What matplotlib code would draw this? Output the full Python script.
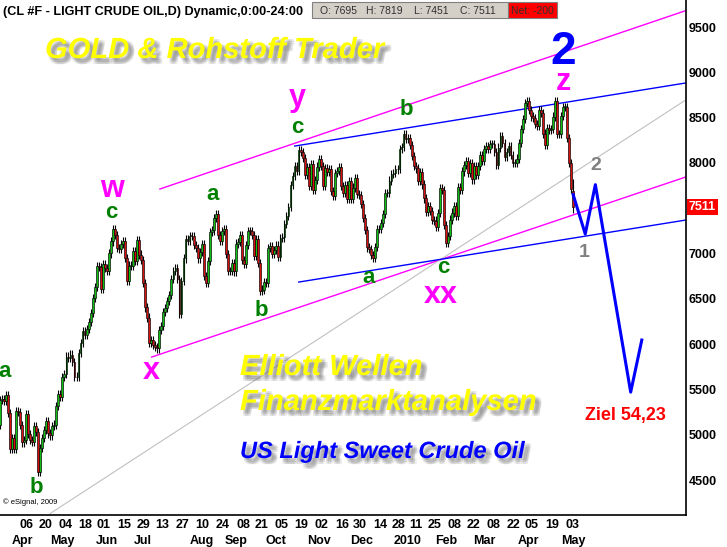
import numpy as np
import pandas as pd
import matplotlib
matplotlib.use("Agg")
import matplotlib.pyplot as plt
import matplotlib.patheffects as pe
from matplotlib.patches import Rectangle
from matplotlib import font_manager as fm

# ---- data -------------------------------------------------------------
holidays = ["2009-04-10", "2009-05-25", "2009-07-03", "2009-09-07", "2009-11-26",
            "2009-12-25", "2010-01-01", "2010-01-18", "2010-02-15", "2010-04-02"]
days = pd.bdate_range("2009-03-20", "2010-05-07", freq="C", holidays=holidays)

# daily closes in $, one row per week
closes = [
    51.06,
    53.80, 53.98, 53.77, 54.34, 52.38,
    48.41, 49.66, 48.39, 52.64, 52.51,
    51.05, 49.15, 49.38, 52.24,
    50.05, 49.41, 49.25, 50.98, 50.33,
    45.88, 48.55, 49.62, 50.55, 51.55,
    50.14, 49.92, 50.97, 51.12, 53.20,
    54.47, 54.16, 56.34, 56.71, 58.63,
    58.50, 58.85, 58.02, 56.42, 56.34,
    59.03, 60.10, 61.45, 61.05, 61.67,
    62.45, 63.45, 65.08, 66.31,
    68.58, 68.55, 66.12, 68.81, 68.44,
    68.09, 70.01, 71.33, 72.68, 72.04,
    70.62, 70.47, 71.03, 71.37, 69.55,
    66.93, 68.67, 68.67, 70.23, 69.16,
    71.49, 69.89, 69.31, 66.73,
    64.05, 62.93, 60.14, 60.41, 59.89,
    59.69, 59.52, 61.54, 62.02, 63.56,
    63.98, 64.72, 65.40, 67.22, 68.05,
    68.38, 67.23, 63.35, 66.94, 69.45,
    71.58, 71.42, 71.97, 71.94, 70.93,
    70.60, 69.45, 70.16, 71.01, 67.51,
    66.75, 69.19, 72.42, 72.54, 73.89,
    74.37, 72.05, 71.43, 72.49, 72.74,
    69.96, 68.05, 68.05, 68.96, 68.02,
    71.10, 71.31, 72.04, 69.29,
    68.86, 70.93, 72.51, 72.47, 72.04,
    69.71, 71.55, 68.97, 65.89, 66.02,
    66.84, 66.71, 70.61, 70.82, 69.95,
    70.41, 70.88, 69.57, 71.69, 71.77,
    73.27, 74.15, 75.18, 77.58, 78.53,
    79.61, 79.09, 81.37, 81.19, 80.50,
    78.68, 79.55, 77.46, 79.87, 77.00,
    78.13, 79.60, 80.40, 79.62, 77.43,
    79.43, 79.05, 79.28, 76.94, 76.35,
    78.90, 79.14, 79.58, 77.46, 76.72,
    77.56, 76.02, 77.96, 76.05,
    77.28, 78.37, 76.60, 76.46, 75.47,
    73.93, 72.62, 70.67, 70.54, 69.87,
    69.51, 70.69, 72.66, 72.66, 73.36,
    74.40, 76.67, 76.67, 78.05,
    78.77, 78.87, 79.28, 79.36,
    81.51, 81.77, 83.18, 82.66, 82.75,
    81.99, 80.79, 79.65, 79.39, 78.00,
    79.02, 77.62, 76.08, 74.54,
    75.26, 74.71, 73.67, 73.64, 72.89,
    74.43, 77.23, 76.98, 73.14, 71.19,
    71.89, 73.75, 74.52, 75.28, 74.13,
    77.33, 77.01, 79.06, 79.81,
    80.16, 78.86, 80.00, 78.17, 79.66,
    78.70, 79.68, 80.87, 80.21, 81.50,
    81.87, 81.49, 82.09, 82.11, 81.24,
    79.80, 81.70, 82.93, 82.20, 80.68,
    81.25, 81.91, 80.91, 80.00, 80.00,
    80.48, 82.17, 83.76, 84.87,
    86.62, 86.84, 85.88, 85.13, 84.92,
    84.34, 84.05, 85.84, 85.51, 83.24,
    82.00, 83.85, 83.68, 83.70, 85.12,
    86.84, 83.21, 83.22, 85.17, 86.15,
    86.19, 82.74, 79.97, 77.11, 75.11,
]
last_bar = {"O": 7695, "H": 7819, "L": 7451, "C": 7511}
net_change = -200

price_ticks = [4500, 5000, 5500, 6000, 6500, 7000, 8000, 8500, 9000, 9500]

day_ticks = ["2009-04-06", "2009-04-20", "2009-05-04", "2009-05-18", "2009-06-01",
             "2009-06-15", "2009-06-29", "2009-07-13", "2009-07-27", "2009-08-10",
             "2009-08-24", "2009-09-08", "2009-09-21", "2009-10-05", "2009-10-19",
             "2009-11-02", "2009-11-16", "2009-11-30", "2009-12-14", "2009-12-28",
             "2010-01-11", "2010-01-25", "2010-02-08", "2010-02-22", "2010-03-08",
             "2010-03-22", "2010-04-05", "2010-04-19", "2010-05-03"]
month_labels = ["Apr", "May", "Jun", "Jul", "Aug", "Sep", "Oct", "Nov", "Dec",
                "2010", "Feb", "Mar", "Apr", "May"]
month_dates = ["2009-04-07", "2009-05-06", "2009-06-08", "2009-07-02", "2009-08-13",
               "2009-09-08", "2009-10-06", "2009-11-04", "2009-12-04", "2010-01-08",
               "2010-02-05", "2010-03-05", "2010-04-07", "2010-05-07"]

# trend lines: (start day no., start price, end day no., end price, colour)
trend_lines = [
    (80.3, 7712, 340.7, 9680, "#ff00ff"),
    (76.2, 5857, 340.7, 7844, "#ff00ff"),
    (26.0, 4131, 340.7, 8694, "#c0c0c0"),
    (147.1, 8186, 340.7, 8882, "#0000ff"),
    (149.1, 6685, 340.7, 7369, "#0000ff"),
]

# projected wave (trading day no., price)
wave_days = [285, 291, 296, 313.5, 319]
wave_prices = [7650, 7215, 7760, 5470, 6045]

# wave labels: (text, day no., price, colour, size)
wave_labels = [
    ("a", 3.6, 5637, "#008000", 16), ("b", 18.9, 4357, "#008000", 16),
    ("w", 56.6, 7624, "#ff00ff", 22), ("c", 56.1, 7392, "#008000", 16),
    ("x", 75.9, 5615, "#ff00ff", 22), ("a", 106.6, 7591, "#008000", 16),
    ("b", 130.4, 6310, "#008000", 16), ("y", 148.2, 8628, "#ff00ff", 22),
    ("c", 148.2, 8330, "#008000", 16), ("a", 183.9, 6675, "#008000", 16),
    ("b", 202.2, 8529, "#008000", 16), ("c", 220.5, 6785, "#008000", 16),
    ("xx", 219.5, 6454, "#ff00ff", 22), ("2", 280.0, 9095, "#0000ff", 33),
    ("z", 280.0, 8800, "#ff00ff", 22), ("2", 296.3, 7922, "#808080", 14),
    ("1", 290.4, 6961, "#808080", 14),
]
target_label = ("Ziel 54,23", 310.7, 5162)

# ---- fonts ------------------------------------------------------------
installed = {f.name for f in fm.fontManager.ttflist}
arial = ["Liberation Sans", "DejaVu Sans"]
if "Liberation Sans Narrow" in installed:
    narrow, nscale = ["Liberation Sans Narrow", "Liberation Sans"], 1.0
else:
    narrow, nscale = arial, 0.86

# ---- figure -----------------------------------------------------------
W, H = 727, 547
fig = plt.figure(figsize=(W / 100, H / 100), dpi=100)
ax = fig.add_axes([0, 32 / H, 686 / W, 515 / H])
ax.set_xlim(1.1, 340.9)
ax.set_ylim(4114, 9798)

c = np.array(closes) * 100
o = np.r_[c[0], c[:-1]]
o[-1] = last_bar["O"]
c[-1] = last_bar["C"]
wick = 45
hi = np.maximum(o, c) + wick
lo = np.minimum(o, c) - wick
hi[-1], lo[-1] = last_bar["H"], last_bar["L"]
xi = np.arange(len(c))

for x0, y0, x1, y1, col in trend_lines:
    ax.plot([x0, x1], [y0, y1], color=col, lw=1.0 if col != "#c0c0c0" else 0.8, zorder=1)

ax.vlines(xi, lo, hi, color="black", lw=0.8, zorder=2)
up = c >= o
body_lo = np.minimum(o, c)
body_h = np.maximum(np.abs(c - o), 8)
ax.bar(xi[up], body_h[up], bottom=body_lo[up], width=0.9, color="#10c010",
       edgecolor="black", lw=0.45, zorder=3)
ax.bar(xi[~up], body_h[~up], bottom=body_lo[~up], width=0.9, color="#d81010",
       edgecolor="black", lw=0.45, zorder=3)

ax.plot(wave_days, wave_prices, color="#0000ff", lw=2.2, zorder=4)

for txt, xd, yp, col, sz in wave_labels:
    ax.text(xd, yp, txt, color=col, fontsize=sz, fontweight="bold", family=arial,
            ha="center", va="baseline", zorder=5)
ax.text(target_label[1], target_label[2], target_label[0], color="#ff0000",
        fontsize=15 * nscale, fontweight="bold", family=narrow, ha="center", va="baseline")

# axes styling
for s in ("left", "top"):
    ax.spines[s].set_visible(False)
ax.spines["right"].set_linewidth(1.2)
ax.spines["bottom"].set_linewidth(1.2)
ax.yaxis.tick_right()
ax.set_yticks(price_ticks)
ax.set_yticklabels([str(p) for p in price_ticks], fontsize=10.5 * nscale,
                   fontweight="bold", family=narrow)
ax.tick_params(axis="y", length=0, pad=2)

tick_idx = [days.get_loc(pd.Timestamp(d)) for d in day_ticks]
ax.set_xticks(tick_idx)
ax.set_xticklabels([pd.Timestamp(d).strftime("%d") for d in day_ticks],
                   fontsize=10.5 * nscale, fontweight="bold", family=narrow, ha="left")
ax.tick_params(axis="x", length=0, pad=3)
for lab, d in zip(month_labels, month_dates):
    ax.text(days.get_loc(pd.Timestamp(d)), -0.051, lab, transform=ax.get_xaxis_transform(),
            ha="center", va="center", fontsize=10.5 * nscale, fontweight="bold", family=narrow)

# last price tag
ax.text(1.004, (last_bar["C"] - 4114) / (9798 - 4114), str(last_bar["C"]),
        transform=ax.transAxes, ha="left", va="center", color="white",
        fontsize=10.5 * nscale, fontweight="bold", family=narrow,
        bbox=dict(boxstyle="square,pad=0.15", fc="#ff0000", ec="none"))

ax.text(0.004, 0.018, "\u00a9 eSignal, 2009", transform=ax.transAxes, fontsize=5.5,
        family=arial, ha="left", va="bottom")


# ---- header -----------------------------------------------------------
def fx(px):
    return px / W


def fy(py):
    return 1 - py / H


fig.text(fx(3), fy(15), "(CL #F - LIGHT CRUDE OIL,D) Dynamic,0:00-24:00",
         fontsize=11 * nscale * 0.96, fontweight="bold", family=narrow, va="baseline")
fig.patches.append(Rectangle((fx(312), fy(18)), fx(508) - fx(312), fy(2) - fy(18),
                             transform=fig.transFigure, fc="#d4d0c8", ec="#808080", lw=0.8))
fig.patches.append(Rectangle((fx(508), fy(18)), fx(557) - fx(508), fy(2) - fy(18),
                             transform=fig.transFigure, fc="#ff0000", ec="#808080", lw=0.8))
for key, px in zip(("O", "H", "L", "C"), (320, 366, 414, 460)):
    fig.text(fx(px), fy(14), f"{key}: {last_bar[key]}", fontsize=7.5, family=arial,
             color="#303030", va="baseline")
fig.text(fx(511), fy(14), f"Net: {net_change}", fontsize=7.5, family=arial,
         color="#303030", va="baseline")

# ---- promo texts with soft shadow -------------------------------------
shadow = [pe.SimplePatchShadow(offset=(3 + dx, -3 + dy), shadow_rgbFace="#707070", alpha=0.12)
          for dx in (-1.3, 0, 1.3) for dy in (-1.3, 0, 1.3)] + [pe.Normal()]

fig.text(fx(45), fy(58), "GOLD & Rohstoff Trader", fontsize=21, fontweight="bold",
         style="italic", family=arial, color="#ffff00", path_effects=shadow)
fig.text(fx(240), fy(375), "Elliott Wellen", fontsize=21, fontweight="bold",
         style="italic", family=arial, color="#ffff00", path_effects=shadow)
fig.text(fx(240), fy(410), "Finanzmarktanalysen", fontsize=21, fontweight="bold",
         style="italic", family=arial, color="#ffff00", path_effects=shadow)
fig.text(fx(240), fy(458), "US Light Sweet Crude Oil", fontsize=17, fontweight="bold",
         style="italic", family=arial, color="#0000ff", path_effects=shadow)

fig.savefig("out.png", dpi=100, facecolor="white")
